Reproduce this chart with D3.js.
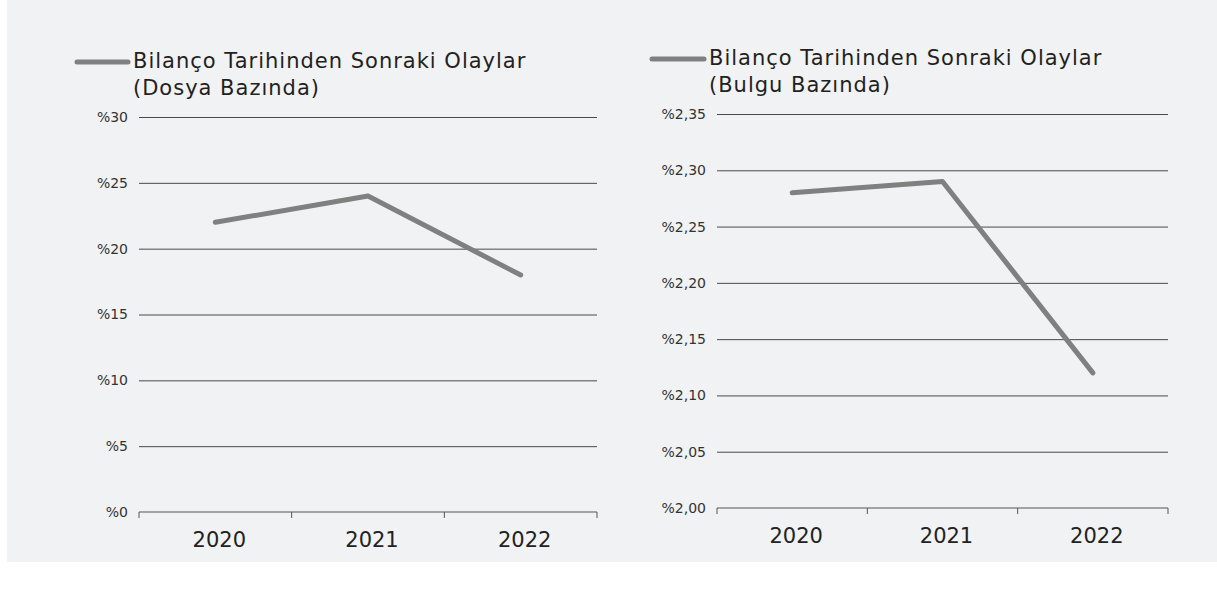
<!DOCTYPE html>
<html>
<head>
<meta charset="utf-8">
<script src="https://cdn.jsdelivr.net/npm/d3@7"></script>
<style>
  body { margin: 0; background: #fff; }
  text { font-family: "DejaVu Sans", sans-serif; }
</style>
</head>
<body>
<div id="chart"></div>
<script>
// values
var years = ["2020", "2021", "2022"];
var dosyaValues = [22, 24, 18];
var bulguValues = [2.28, 2.29, 2.12];
var dosyaTicks = [0, 5, 10, 15, 20, 25, 30];
var bulguTicks = [2.00, 2.05, 2.10, 2.15, 2.20, 2.25, 2.30, 2.35];
var dosyaTitle = ["Bilanço Tarihinden Sonraki Olaylar", "(Dosya Bazında)"];
var bulguTitle = ["Bilanço Tarihinden Sonraki Olaylar", "(Bulgu Bazında)"];

var trLocale = d3.formatLocale({decimal: ",", thousands: ".", grouping: [3], currency: ["", ""]});

var width = 1217, height = 590;

var svg = d3.select("#chart")
    .append("svg")
    .attr("width", width)
    .attr("height", height);

svg.append("rect")
    .attr("x", 7).attr("y", 0)
    .attr("width", width - 7).attr("height", 562)
    .attr("fill", "#f1f2f4");

drawPanel({
    values: dosyaValues,
    ticks: dosyaTicks,
    domain: [0, 30],
    format: d => "%" + d,
    title: dosyaTitle,
    left: 139, right: 597, top: 117, bottom: 512,
    legendX: 77, textX: 133, titleY: 68
});

drawPanel({
    values: bulguValues,
    ticks: bulguTicks,
    domain: [2.00, 2.35],
    format: d => "%" + trLocale.format(".2f")(d),
    title: bulguTitle,
    left: 717, right: 1168, top: 114, bottom: 508,
    legendX: 652, textX: 709, titleY: 65
});

function drawPanel(opt) {
    var g = svg.append("g");

    var x = d3.scaleBand()
        .domain(years)
        .range([opt.left, opt.right])
        .padding(0);

    var y = d3.scaleLinear()
        .domain(opt.domain)
        .range([opt.bottom, opt.top]);

    // gridlines + y labels
    var yAxis = g.append("g")
        .attr("transform", `translate(${opt.left}, 0)`)
        .call(d3.axisLeft(y)
            .tickValues(opt.ticks)
            .tickFormat(opt.format)
            .tickSize(-(opt.right - opt.left))
            .tickPadding(11));
    yAxis.select(".domain").remove();
    yAxis.selectAll(".tick line")
        .attr("stroke", "#4a4a4a")
        .attr("stroke-width", 1)
        .filter(d => d == opt.domain[0]).remove();
    yAxis.selectAll(".tick text")
        .attr("fill", "#333")
        .style("font-size", "14px");

    // x axis with ticks at band edges
    var xAxis = g.append("g")
        .attr("transform", `translate(0, ${opt.bottom})`)
        .call(d3.axisBottom(x).tickSize(0).tickPadding(20));
    xAxis.select(".domain")
        .attr("stroke", "#555")
        .attr("d", `M${opt.left},0H${opt.right}`);
    xAxis.selectAll(".tick text")
        .attr("fill", "#222")
        .attr("dx", 4)
        .style("font-size", "21px");

    var edges = years.map(d => x(d)).concat([x.range()[1]]);
    xAxis.selectAll(".edge")
        .data(edges)
        .enter().append("line")
        .attr("class", "edge")
        .attr("x1", d => d).attr("x2", d => d)
        .attr("y1", 0).attr("y2", 6)
        .attr("stroke", "#555");

    // the series line
    g.append("path")
        .datum(opt.values)
        .attr("fill", "none")
        .attr("stroke", "#808080")
        .attr("stroke-width", 5)
        .attr("stroke-linecap", "round")
        .attr("stroke-linejoin", "round")
        .attr("d", d3.line()
            .x((d, i) => x(years[i]) + x.bandwidth() / 2)
            .y(d => y(d)));

    // legend
    g.append("line")
        .attr("x1", opt.legendX).attr("x2", opt.textX - 5)
        .attr("y1", opt.titleY - 6).attr("y2", opt.titleY - 6)
        .attr("stroke", "#808080")
        .attr("stroke-width", 5)
        .attr("stroke-linecap", "round");

    var title = g.append("text")
        .attr("x", opt.textX)
        .attr("y", opt.titleY)
        .attr("fill", "#231f20")
        .style("font-size", "21px")
        .style("letter-spacing", "1px");
    title.selectAll("tspan")
        .data(opt.title)
        .enter().append("tspan")
        .attr("x", opt.textX)
        .attr("dy", (d, i) => i == 0 ? 0 : 27)
        .text(d => d);
}
</script>
</body>
</html>
